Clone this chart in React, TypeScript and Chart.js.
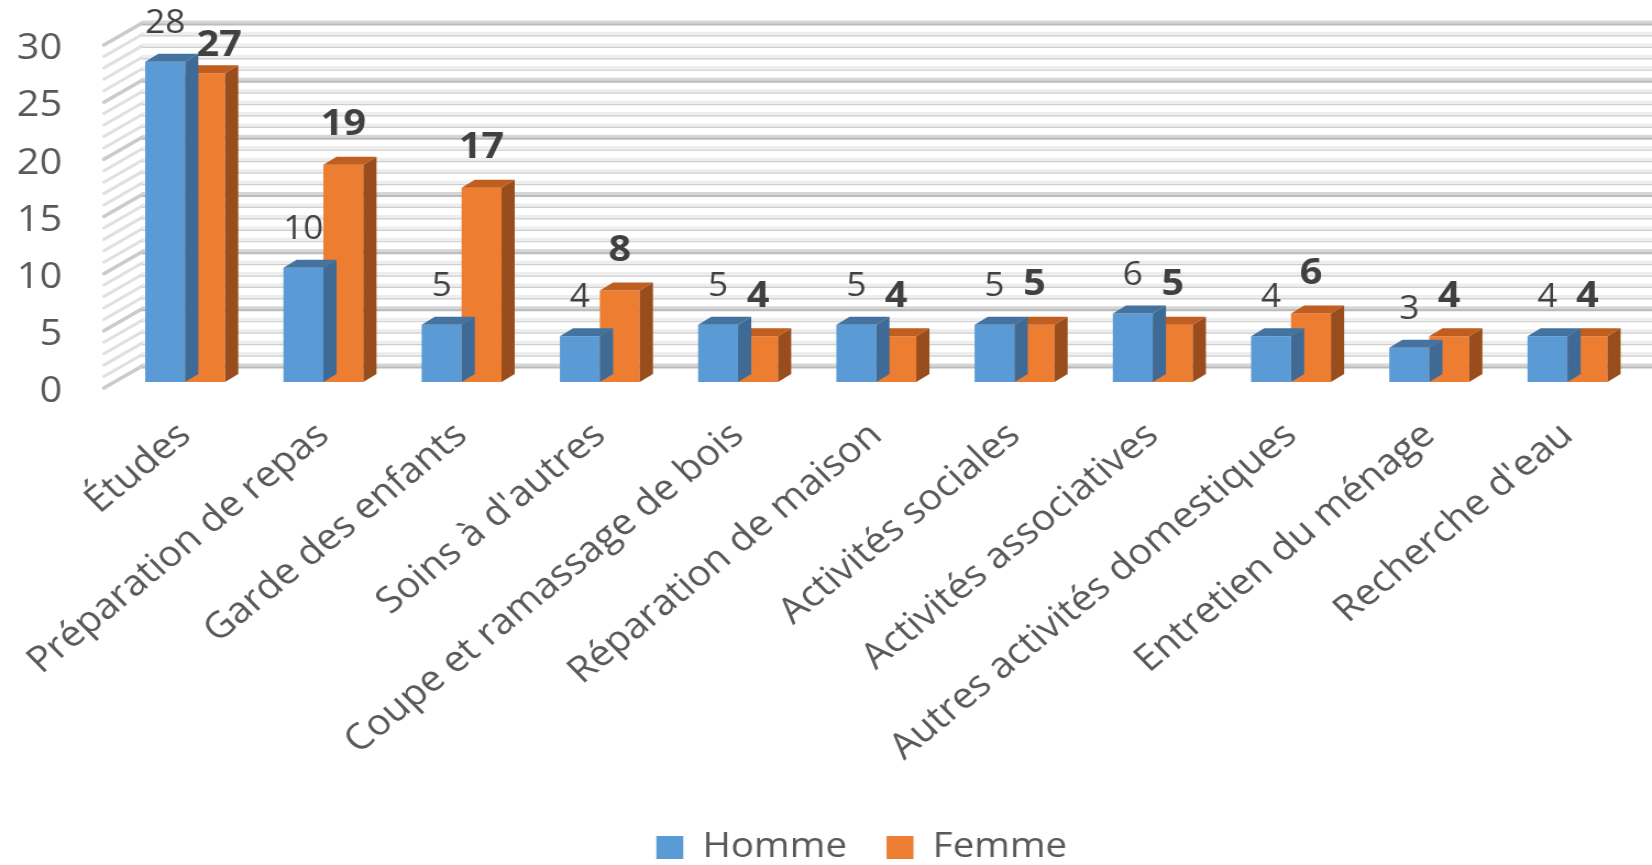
import React, { useEffect, useRef } from "react";
import { Chart, registerables } from "chart.js";

Chart.register(...registerables);

// ---------- DATA ----------
const categories = [
  "Études",
  "Préparation de repas",
  "Garde des enfants",
  "Soins à d'autres",
  "Coupe et ramassage de bois",
  "Réparation de maison",
  "Activités sociales",
  "Activités associatives",
  "Autres activités domestiques",
  "Entretien du ménage",
  "Recherche d'eau",
];
const hommeValues = [28, 10, 5, 4, 5, 5, 5, 6, 4, 3, 4];
const femmeValues = [27, 19, 17, 8, 4, 4, 5, 5, 6, 4, 4];
const seriesNames = ["Homme", "Femme"];
const yMin = 0;
const yMax = 30;
const yStep = 5;

// ---------- LAYOUT / STYLE ----------
const FULL_W = 1652;
const FULL_H = 865;
const CW = 1502; // canvas is stretched horizontally (~1.1x) like the reference
const FONT = "'Open Sans', 'DejaVu Sans', sans-serif";
const TEXT = "#595959";
const LABEL = "#404040";

const COLORS = [
  { front: "#5B9BD5", top: "#44739F", side: "#3E6A95" },
  { front: "#ED7D31", top: "#BF5E1F", side: "#9A4D1C" },
];

const DX = 12;
const DY = 8;
const WALL_FRONT_DX = -11;
const WALL_BACK_DX = 23;
const WALL_FRONT_DY = 6;
const WALL_BACK_DY = -15.5;
const Y_LABEL_RIGHT = 56.5;

const threeD = {
  id: "threeD",
  beforeDatasetsDraw(chart: any) {
    const { ctx, chartArea, scales } = chart;
    const y = scales.y;
    const fx = chartArea.left + WALL_FRONT_DX;
    const bx = chartArea.left + WALL_BACK_DX;
    ctx.save();
    for (let v = yMin; v <= yMax; v++) {
      const major = v % yStep === 0;
      const py = y.getPixelForValue(v);
      const by = py + WALL_BACK_DY;
      ctx.fillStyle = major ? "#d6d6d6" : "#eeeeee";
      ctx.fillRect(bx, by - 3, chart.width - bx, 4);
      ctx.strokeStyle = major ? "#bbbbbb" : "#cecece";
      ctx.lineWidth = major ? 2 : 1.2;
      ctx.beginPath();
      ctx.moveTo(bx, by + 1);
      ctx.lineTo(chart.width, by + 1);
      ctx.stroke();
      ctx.lineCap = "round";
      ctx.strokeStyle = major ? "#cbcbcb" : "#e0e0e0";
      ctx.lineWidth = major ? 3.5 : 3;
      ctx.beginPath();
      ctx.moveTo(fx, py + WALL_FRONT_DY);
      ctx.lineTo(bx, by);
      ctx.stroke();
    }
    // y tick labels, from the scale's own ticks
    ctx.fillStyle = TEXT;
    ctx.font = "36px " + FONT;
    ctx.textAlign = "right";
    ctx.textBaseline = "middle";
    y.ticks.forEach((t: any) => {
      ctx.fillText(String(t.value), Y_LABEL_RIGHT, y.getPixelForValue(t.value) + 10);
    });
    ctx.restore();
  },
  afterDatasetDraw(chart: any, args: any) {
    const { ctx } = chart;
    const c = COLORS[args.index];
    const meta = chart.getDatasetMeta(args.index);
    ctx.save();
    meta.data.forEach((el: any) => {
      const { x, y, width, base } = el.getProps(["x", "y", "width", "base"], true);
      const x0 = x - width / 2;
      const x1 = x + width / 2;
      ctx.fillStyle = c.side;
      ctx.beginPath();
      ctx.moveTo(x1, y);
      ctx.lineTo(x1 + DX, y - DY);
      ctx.lineTo(x1 + DX, base - DY);
      ctx.lineTo(x1, base);
      ctx.closePath();
      ctx.fill();
      ctx.fillStyle = c.top;
      ctx.beginPath();
      ctx.moveTo(x0, y);
      ctx.lineTo(x1, y);
      ctx.lineTo(x1 + DX, y - DY);
      ctx.lineTo(x0 + DX, y - DY);
      ctx.closePath();
      ctx.fill();
    });
    ctx.restore();
  },
  afterDatasetsDraw(chart: any) {
    const { ctx } = chart;
    ctx.save();
    ctx.textAlign = "center";
    ctx.textBaseline = "middle";
    ctx.fillStyle = LABEL;
    const m0 = chart.getDatasetMeta(0);
    const m1 = chart.getDatasetMeta(1);
    const d0 = chart.data.datasets[0].data;
    const d1 = chart.data.datasets[1].data;
    m0.data.forEach((e0: any, j: number) => {
      const e1 = m1.data[j];
      ctx.font = "32px " + FONT;
      const t0 = String(d0[j]);
      const w0 = ctx.measureText(t0).width;
      const y0 = e0.y - 38;
      ctx.fillText(t0, e0.x, y0);
      ctx.font = "bold 36px " + FONT;
      const t1 = String(d1[j]);
      const w1 = ctx.measureText(t1).width;
      let x1 = e1.x;
      let y1 = e1.y - 40;
      const overlapX = e0.x + w0 / 2 + 2 > x1 - w1 / 2;
      const overlapY = Math.abs(y1 - y0) < 26;
      if (overlapX && overlapY) {
        x1 = e1.x + e1.width * 0.35;
        y1 = e1.y - 28;
      }
      ctx.fillText(t1, x1, y1);
    });
    ctx.restore();
  },
};

export default function App() {
  const ref = useRef<HTMLCanvasElement | null>(null);

  useEffect(() => {
    if (!ref.current) return;
    const chart = new Chart(ref.current, {
      type: "bar",
      data: {
        labels: categories,
        datasets: [
          {
            label: seriesNames[0],
            data: hommeValues,
            backgroundColor: COLORS[0].front,
            borderWidth: 0,
          },
          {
            label: seriesNames[1],
            data: femmeValues,
            backgroundColor: COLORS[1].front,
            borderWidth: 0,
          },
        ],
      },
      options: {
        responsive: false,
        animation: false,
        devicePixelRatio: 1,
        layout: { padding: { left: 79, right: 14, top: 39, bottom: -10 } },
        datasets: { bar: { categoryPercentage: 0.578, barPercentage: 1 } },
        plugins: {
          legend: {
            position: "bottom",
            labels: {
              boxWidth: 24.5,
              boxHeight: 23,
              padding: 36,
              color: TEXT,
              font: { family: FONT, size: 35 },
            },
          },
          tooltip: { enabled: false },
        },
        scales: {
          x: {
            grid: { display: false, drawTicks: false },
            border: { display: false },
            ticks: {
              autoSkip: false,
              minRotation: 42,
              maxRotation: 42,
              padding: 32,
              color: TEXT,
              font: { family: FONT, size: 36 },
            },
            afterFit: (s: any) => {
              s.height = 412;
            },
          },
          y: {
            min: yMin,
            max: yMax,
            grid: { display: false, drawTicks: false },
            border: { display: false },
            ticks: { stepSize: yStep, display: false },
            afterFit: (s: any) => {
              s.width = 26.5;
            },
          },
        },
      },
      plugins: [threeD],
    } as any);
    return () => chart.destroy();
  }, []);

  return (
    <canvas
      ref={ref}
      width={CW}
      height={FULL_H}
      style={{
        position: "absolute",
        left: 0,
        top: 0,
        width: FULL_W + "px",
        height: FULL_H + "px",
        background: "#ffffff",
      }}
    />
  );
}
